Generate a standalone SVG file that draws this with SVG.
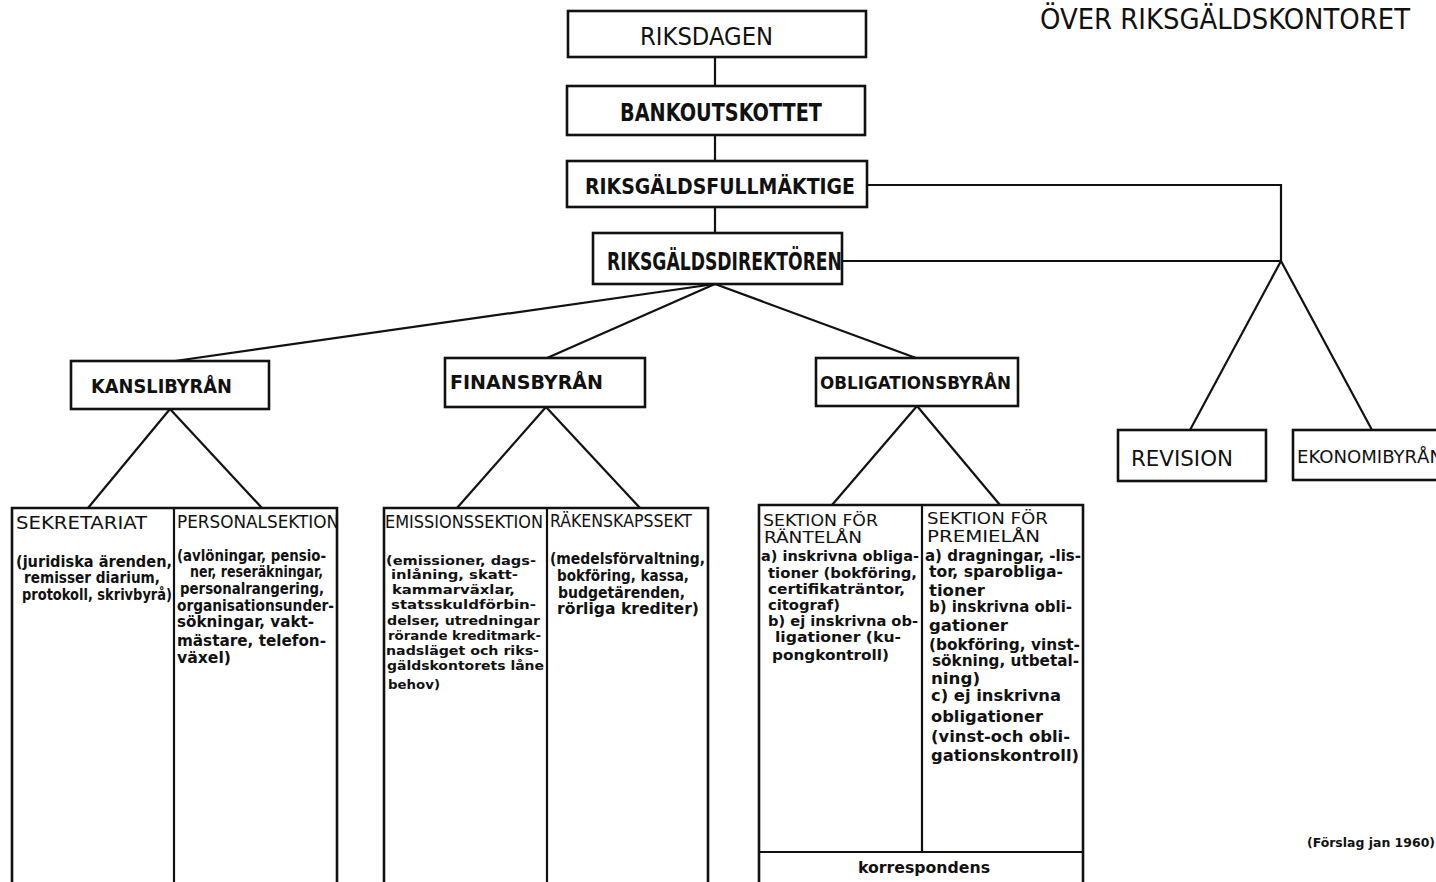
<svg xmlns="http://www.w3.org/2000/svg" width="1436" height="882" viewBox="0 0 1436 882">
<style>
.bg{fill:#ffffff}
.box{fill:#ffffff;stroke:#111;stroke-width:2.6}
.ln{fill:none;stroke:#111;stroke-width:2.2}
text{font-family:"DejaVu Sans Condensed","DejaVu Sans","Liberation Sans",sans-serif;fill:#111}
.t1{font-size:24px}
.t1b{font-size:24px;font-weight:bold}
.t2{font-size:19px}
.hd{font-size:17px}
.hs{font-size:15px}
.bd{font-size:15px;font-weight:bold}
.bs{font-size:13px;font-weight:bold}
.bm{font-size:14px;font-weight:bold}
.ttl{font-size:29px}
.ft{font-size:13px;font-weight:bold}
</style>
<rect class="bg" x="0" y="0" width="1436" height="882"/>

<text class="ttl" x="1040" y="29" textLength="370" lengthAdjust="spacingAndGlyphs">ÖVER  RIKSGÄLDSKONTORET</text>

<g id="connectors">
<line class="ln" x1="715" y1="57" x2="715" y2="86"/>
<line class="ln" x1="715" y1="135" x2="715" y2="161"/>
<line class="ln" x1="715" y1="207" x2="715" y2="233"/>
<polyline class="ln" points="867,185 1281,185 1281,261"/>
<line class="ln" x1="842" y1="261" x2="1281" y2="261"/>
<line class="ln" x1="1281" y1="261" x2="1190" y2="430"/>
<line class="ln" x1="1281" y1="261" x2="1372" y2="430"/>
<line class="ln" x1="715" y1="284" x2="175" y2="361"/>
<line class="ln" x1="715" y1="284" x2="547" y2="358"/>
<line class="ln" x1="715" y1="284" x2="916" y2="358"/>
<line class="ln" x1="170" y1="409" x2="88" y2="508"/>
<line class="ln" x1="170" y1="409" x2="262" y2="508"/>
<line class="ln" x1="546" y1="407" x2="457" y2="508"/>
<line class="ln" x1="546" y1="407" x2="640" y2="508"/>
<line class="ln" x1="917" y1="406" x2="832" y2="505"/>
<line class="ln" x1="917" y1="406" x2="1000" y2="505"/>
</g>

<g id="riksdagen">
<rect class="box" x="568" y="11" width="298" height="46"/>
<text class="t1" x="640" y="45" textLength="133" lengthAdjust="spacingAndGlyphs">RIKSDAGEN</text>
</g>
<g id="bankoutskottet">
<rect class="box" x="567" y="86" width="298" height="49"/>
<text class="t1b" x="620" y="121" textLength="202" lengthAdjust="spacingAndGlyphs">BANKOUTSKOTTET</text>
</g>
<g id="fullmaktige">
<rect class="box" x="567" y="161" width="300" height="46"/>
<text class="t1b" x="585" y="194" textLength="270" lengthAdjust="spacingAndGlyphs" style="font-size:22px">RIKSGÄLDSFULLMÄKTIGE</text>
</g>
<g id="direktoren">
<rect class="box" x="593" y="233" width="249" height="51"/>
<text class="t1b" x="607" y="270" textLength="235" lengthAdjust="spacingAndGlyphs">RIKSGÄLDSDIREKTÖREN</text>
</g>

<g id="kanslibyran">
<rect class="box" x="71" y="361" width="198" height="48"/>
<text class="t2" x="91" y="393" textLength="141" lengthAdjust="spacingAndGlyphs" style="font-weight:bold">KANSLIBYRÅN</text>
</g>
<g id="finansbyran">
<rect class="box" x="445" y="358" width="200" height="49"/>
<text class="t2" x="450" y="389" textLength="153" lengthAdjust="spacingAndGlyphs" style="font-weight:bold">FINANSBYRÅN</text>
</g>
<g id="obligationsbyran">
<rect class="box" x="816" y="358" width="202" height="48"/>
<text class="t2" x="820" y="389" textLength="191" lengthAdjust="spacingAndGlyphs" style="font-size:17px;font-weight:bold">OBLIGATIONSBYRÅN</text>
</g>
<g id="revision">
<rect class="box" x="1118" y="430" width="148" height="51"/>
<text class="t2" x="1131" y="466" textLength="102" lengthAdjust="spacingAndGlyphs" style="font-size:21px">REVISION</text>
</g>
<g id="ekonomibyran">
<rect class="box" x="1293" y="430" width="150" height="50"/>
<text class="t2" x="1297" y="463" textLength="146" lengthAdjust="spacingAndGlyphs" style="font-size:18px">EKONOMIBYRÅN</text>
</g>

<g id="kansli-sektioner">
<polyline class="box" points="12,884 12,508 337,508 337,884" style="fill:none"/>
<line class="ln" x1="174" y1="508" x2="174" y2="884"/>
<text class="hd" x="16" y="529" textLength="131" lengthAdjust="spacingAndGlyphs">SEKRETARIAT</text>
<text class="bd" x="16" y="567" textLength="156" lengthAdjust="spacingAndGlyphs">(juridiska ärenden,</text>
<text class="bd" x="24" y="583" textLength="136" lengthAdjust="spacingAndGlyphs">remisser diarium,</text>
<text class="bd" x="22" y="600" textLength="150" lengthAdjust="spacingAndGlyphs">protokoll, skrivbyrå)</text>
<text class="hd" x="177" y="528" textLength="162" lengthAdjust="spacingAndGlyphs">PERSONALSEKTION</text>
<text class="bd" x="177" y="561" textLength="149" lengthAdjust="spacingAndGlyphs">(avlöningar, pensio-</text>
<text class="bd" x="190" y="577" textLength="133" lengthAdjust="spacingAndGlyphs">ner, reseräkningar,</text>
<text class="bd" x="180" y="594" textLength="144" lengthAdjust="spacingAndGlyphs">personalrangering,</text>
<text class="bd" x="177" y="611" textLength="157" lengthAdjust="spacingAndGlyphs">organisationsunder-</text>
<text class="bd" x="177" y="627" textLength="137" lengthAdjust="spacingAndGlyphs">sökningar, vakt-</text>
<text class="bd" x="177" y="646" textLength="149" lengthAdjust="spacingAndGlyphs">mästare, telefon-</text>
<text class="bd" x="177" y="663" textLength="54" lengthAdjust="spacingAndGlyphs">växel)</text>
</g>

<g id="finans-sektioner">
<polyline class="box" points="384,884 384,508 708,508 708,884" style="fill:none"/>
<line class="ln" x1="547" y1="508" x2="547" y2="884"/>
<text class="hd" x="385" y="528" textLength="158" lengthAdjust="spacingAndGlyphs">EMISSIONSSEKTION</text>
<text class="bs" x="386" y="565" textLength="150" lengthAdjust="spacingAndGlyphs">(emissioner, dags-</text>
<text class="bs" x="391" y="579" textLength="127" lengthAdjust="spacingAndGlyphs">inlåning, skatt-</text>
<text class="bs" x="392" y="594" textLength="123" lengthAdjust="spacingAndGlyphs">kammarväxlar,</text>
<text class="bs" x="391" y="609" textLength="145" lengthAdjust="spacingAndGlyphs">statsskuldförbin-</text>
<text class="bs" x="387" y="625" textLength="153" lengthAdjust="spacingAndGlyphs">delser, utredningar</text>
<text class="bs" x="388" y="640" textLength="153" lengthAdjust="spacingAndGlyphs">rörande kreditmark-</text>
<text class="bs" x="386" y="655" textLength="153" lengthAdjust="spacingAndGlyphs">nadsläget och riks-</text>
<text class="bs" x="387" y="670" textLength="157" lengthAdjust="spacingAndGlyphs">gäldskontorets låne</text>
<text class="bs" x="388" y="689" textLength="52" lengthAdjust="spacingAndGlyphs">behov)</text>
<text class="hd" x="550" y="527" textLength="142" lengthAdjust="spacingAndGlyphs">RÄKENSKAPSSEKT</text>
<text class="bd" x="550" y="564" textLength="155" lengthAdjust="spacingAndGlyphs">(medelsförvaltning,</text>
<text class="bd" x="557" y="581" textLength="132" lengthAdjust="spacingAndGlyphs">bokföring, kassa,</text>
<text class="bd" x="558" y="598" textLength="127" lengthAdjust="spacingAndGlyphs">budgetärenden,</text>
<text class="bd" x="557" y="614" textLength="142" lengthAdjust="spacingAndGlyphs">rörliga krediter)</text>
</g>

<g id="obligations-sektioner">
<polyline class="box" points="759,884 759,505 1083,505 1083,884" style="fill:none"/>
<line class="ln" x1="922" y1="505" x2="922" y2="852"/>
<line class="ln" x1="759" y1="852" x2="1083" y2="852"/>
<text class="hs" x="763" y="526" textLength="115" lengthAdjust="spacingAndGlyphs">SEKTION FÖR</text>
<text class="hs" x="764" y="543" textLength="98" lengthAdjust="spacingAndGlyphs">RÄNTELÅN</text>
<text class="bm" x="761" y="561" textLength="158" lengthAdjust="spacingAndGlyphs">a) inskrivna obliga-</text>
<text class="bm" x="768" y="578" textLength="149" lengthAdjust="spacingAndGlyphs">tioner (bokföring,</text>
<text class="bm" x="768" y="594" textLength="137" lengthAdjust="spacingAndGlyphs">certifikaträntor,</text>
<text class="bm" x="768" y="610" textLength="72" lengthAdjust="spacingAndGlyphs">citograf)</text>
<text class="bm" x="768" y="626" textLength="150" lengthAdjust="spacingAndGlyphs">b) ej inskrivna ob-</text>
<text class="bm" x="775" y="642" textLength="126" lengthAdjust="spacingAndGlyphs">ligationer (ku-</text>
<text class="bm" x="772" y="660" textLength="117" lengthAdjust="spacingAndGlyphs">pongkontroll)</text>
<text class="hs" x="927" y="524" textLength="121" lengthAdjust="spacingAndGlyphs">SEKTION FÖR</text>
<text class="hs" x="927" y="542" textLength="113" lengthAdjust="spacingAndGlyphs">PREMIELÅN</text>
<text class="bd" x="925" y="561" textLength="156" lengthAdjust="spacingAndGlyphs">a) dragningar, -lis-</text>
<text class="bd" x="929" y="577" textLength="134" lengthAdjust="spacingAndGlyphs">tor, sparobliga-</text>
<text class="bd" x="929" y="596" textLength="56" lengthAdjust="spacingAndGlyphs">tioner</text>
<text class="bd" x="929" y="612" textLength="143" lengthAdjust="spacingAndGlyphs">b) inskrivna obli-</text>
<text class="bd" x="929" y="631" textLength="79" lengthAdjust="spacingAndGlyphs">gationer</text>
<text class="bd" x="929" y="650" textLength="151" lengthAdjust="spacingAndGlyphs">(bokföring, vinst-</text>
<text class="bd" x="932" y="666" textLength="147" lengthAdjust="spacingAndGlyphs">sökning, utbetal-</text>
<text class="bd" x="931" y="684" textLength="49" lengthAdjust="spacingAndGlyphs">ning)</text>
<text class="bd" x="931" y="701" textLength="130" lengthAdjust="spacingAndGlyphs">c) ej inskrivna</text>
<text class="bd" x="931" y="722" textLength="112" lengthAdjust="spacingAndGlyphs">obligationer</text>
<text class="bd" x="931" y="742" textLength="139" lengthAdjust="spacingAndGlyphs">(vinst-och obli-</text>
<text class="bd" x="931" y="761" textLength="148" lengthAdjust="spacingAndGlyphs">gationskontroll)</text>
<text class="bd" x="858" y="873" textLength="132" lengthAdjust="spacingAndGlyphs" style="font-size:16px">korrespondens</text>
</g>

<text class="ft" x="1307" y="847" textLength="128" lengthAdjust="spacingAndGlyphs">(Förslag jan 1960)</text>
</svg>
